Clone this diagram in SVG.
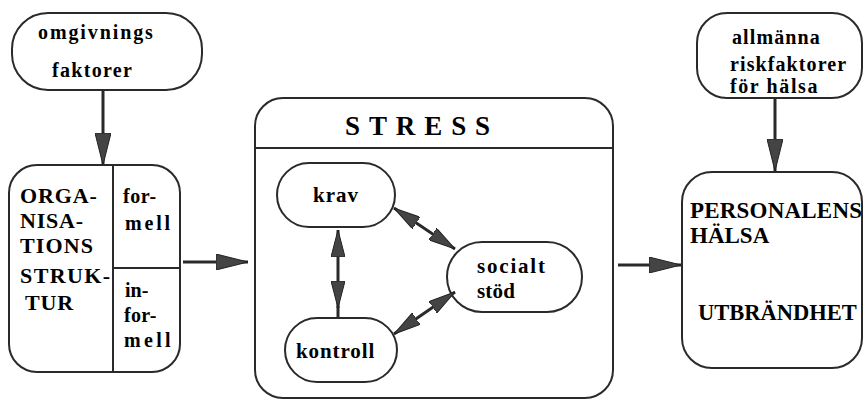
<svg xmlns="http://www.w3.org/2000/svg" width="864" height="400" viewBox="0 0 864 400">
<defs>
<marker id="ah" markerUnits="userSpaceOnUse" markerWidth="32" markerHeight="16" refX="32" refY="8" orient="auto-start-reverse" viewBox="0 0 32 16">
<path d="M0,0 L32,8 L0,16 Z" fill="#444" stroke="#222" stroke-width="1"/>
</marker>
<marker id="ah2" markerUnits="userSpaceOnUse" markerWidth="27" markerHeight="14" refX="27" refY="7" orient="auto-start-reverse" viewBox="0 0 27 14">
<path d="M0,0 L27,7 L0,14 Z" fill="#444" stroke="#222" stroke-width="1"/>
</marker>
</defs>
<rect width="864" height="400" fill="#fff"/>
<g id="omgivnings">
<rect x="12" y="13" width="190" height="77" rx="36" ry="36" fill="#fff" stroke="#2a2a2a" stroke-width="2"/>
<text x="38" y="39" font-family="Liberation Serif" font-weight="bold" font-size="20" letter-spacing="1.9">omgivnings</text>
<text x="52" y="77" font-family="Liberation Serif" font-weight="bold" font-size="20" letter-spacing="1.3">faktorer</text>
</g>
<g id="organisation">
<rect x="9" y="165" width="171" height="207" rx="28" ry="28" fill="#fff" stroke="#2a2a2a" stroke-width="2"/>
<line x1="113" y1="165" x2="113" y2="372" stroke="#2a2a2a" stroke-width="2"/>
<line x1="113" y1="268" x2="180" y2="268" stroke="#2a2a2a" stroke-width="2"/>
<text x="20" y="203" font-family="Liberation Serif" font-weight="bold" font-size="22" letter-spacing="0.9">ORGA-</text>
<text x="20" y="228" font-family="Liberation Serif" font-weight="bold" font-size="22" letter-spacing="0.8">NISA-</text>
<text x="20" y="253" font-family="Liberation Serif" font-weight="bold" font-size="22" letter-spacing="1.1">TIONS</text>
<text x="20" y="283" font-family="Liberation Serif" font-weight="bold" font-size="22" letter-spacing="1.4">STRUK-</text>
<text x="25" y="310" font-family="Liberation Serif" font-weight="bold" font-size="22" letter-spacing="0.8">TUR</text>
<text x="123" y="203" font-family="Liberation Serif" font-weight="bold" font-size="20" letter-spacing="0.6">for-</text>
<text x="125" y="230" font-family="Liberation Serif" font-weight="bold" font-size="20" letter-spacing="2.8">mell</text>
<text x="125" y="297" font-family="Liberation Serif" font-weight="bold" font-size="20">in-</text>
<text x="124" y="322" font-family="Liberation Serif" font-weight="bold" font-size="20" letter-spacing="0.3">for-</text>
<text x="124" y="347" font-family="Liberation Serif" font-weight="bold" font-size="20" letter-spacing="3.3">mell</text>
</g>
<g id="stress">
<rect x="255" y="98" width="358" height="300" rx="28" ry="28" fill="#fff" stroke="#2a2a2a" stroke-width="2"/>
<line x1="255" y1="148" x2="613" y2="148" stroke="#2a2a2a" stroke-width="2"/>
<text x="345" y="135" font-family="Liberation Serif" font-weight="bold" font-size="27" letter-spacing="8.9">STRESS</text>
</g>
<g id="krav">
<rect x="277" y="163" width="118" height="64" rx="32" ry="32" fill="#fff" stroke="#2a2a2a" stroke-width="2"/>
<text x="313" y="202" font-family="Liberation Serif" font-weight="bold" font-size="21" letter-spacing="1">krav</text>
</g>
<g id="kontroll">
<rect x="285" y="318" width="112" height="64" rx="32" ry="32" fill="#fff" stroke="#2a2a2a" stroke-width="2"/>
<text x="296" y="358" font-family="Liberation Serif" font-weight="bold" font-size="21" letter-spacing="0.9">kontroll</text>
</g>
<g id="socialt">
<rect x="447" y="242" width="135" height="70" rx="35" ry="35" fill="#fff" stroke="#2a2a2a" stroke-width="2"/>
<text x="477" y="273" font-family="Liberation Serif" font-weight="bold" font-size="21" letter-spacing="1.8">socialt</text>
<text x="477" y="298" font-family="Liberation Serif" font-weight="bold" font-size="21" letter-spacing="0.2">stöd</text>
</g>
<g id="allmanna">
<rect x="697" y="13" width="165" height="85" rx="30" ry="30" fill="#fff" stroke="#2a2a2a" stroke-width="2"/>
<text x="732" y="44" font-family="Liberation Serif" font-weight="bold" font-size="20" letter-spacing="1.1">allmänna</text>
<text x="730" y="71" font-family="Liberation Serif" font-weight="bold" font-size="20" letter-spacing="1.1">riskfaktorer</text>
<text x="730" y="93" font-family="Liberation Serif" font-weight="bold" font-size="20" letter-spacing="1.6">för hälsa</text>
</g>
<g id="personalens">
<rect x="682" y="172" width="180" height="196" rx="30" ry="30" fill="#fff" stroke="#2a2a2a" stroke-width="2"/>
<text x="690" y="218" font-family="Liberation Serif" font-weight="bold" font-size="23" letter-spacing="0.2">PERSONALENS</text>
<text x="690" y="243" font-family="Liberation Serif" font-weight="bold" font-size="23">HÄLSA</text>
<text x="698" y="320" font-family="Liberation Serif" font-weight="bold" font-size="22.5">UTBRÄNDHET</text>
</g>
<g id="connectors" stroke="#2a2a2a" stroke-width="3" fill="none">
<path d="M103,90 L103,165" marker-end="url(#ah)"/>
<path d="M183,262 L248,262" marker-end="url(#ah)"/>
<path d="M618,265 L681,265" marker-end="url(#ah)"/>
<path d="M775,98 L775,171" marker-end="url(#ah)"/>
<path d="M338,230 L338,308" marker-start="url(#ah2)" marker-end="url(#ah2)"/>
<path d="M338,306 L338,318"/>
<path d="M394,208 L455,249" marker-start="url(#ah2)" marker-end="url(#ah2)"/>
<path d="M394,334 L455,292" marker-start="url(#ah2)" marker-end="url(#ah2)"/>
</g>
</svg>
